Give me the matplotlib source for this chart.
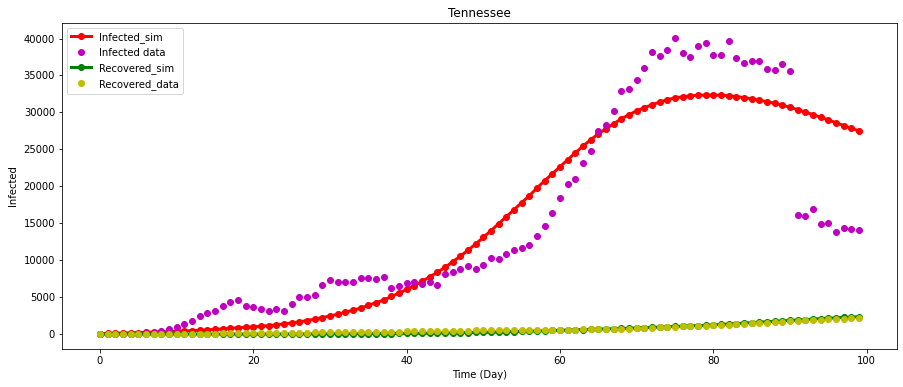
import matplotlib

matplotlib.use("Agg")
import matplotlib.pyplot as plt
import numpy as np

days = np.arange(100)

infected_sim = [
    50, 100, 130, 160, 190, 220, 250, 280, 310, 350,
    390, 430, 480, 530, 590, 650, 720, 790, 870, 940,
    1000, 1080, 1150, 1270, 1400, 1520, 1650, 1850, 2030, 2250,
    2450, 2700, 2970, 3240, 3530, 3900, 4280, 4600, 5100, 5550,
    6050, 6550, 7150, 7750, 8380, 9050, 9800, 10550, 11380, 12200,
    13110, 14010, 14960, 15900, 16850, 17800, 18740, 19780, 20770, 21710,
    22660, 23600, 24550, 25450, 26310, 27120, 27800, 28470, 29150, 29690,
    30230, 30640, 31040, 31400, 31720, 31980, 32120, 32250, 32320, 32350,
    32350, 32330, 32260, 32140, 32000, 31850, 31650, 31450, 31230, 30970,
    30700, 30380, 30030, 29700, 29330, 28980, 28600, 28220, 27850, 27500,
]

infected_data = [
    0, 10, 20, 30, 50, 80, 120, 200, 400, 700,
    950, 1350, 1760, 2430, 2930, 3200, 3780, 4320, 4680, 3870,
    3740, 3470, 3200, 3470, 3200, 4140, 5000, 5000, 5360, 6710,
    7300, 7120, 7120, 7120, 7570, 7570, 7430, 7800, 6310, 6490,
    6890, 7120, 6760, 7030, 6620, 8110, 8380, 8870, 9190, 8870,
    9320, 10360, 10220, 10900, 11440, 11710, 12120, 13340, 14690, 16440,
    18470, 20360, 21040, 23200, 24820, 27530, 28340, 30230, 32930, 33200,
    34420, 36040, 38200, 37660, 38470, 40100, 38070, 37530, 39010, 39420,
    37800, 37800, 39690, 37390, 36720, 36990, 36990, 35900, 35770, 36580,
    35630, 16180, 16040, 16990, 14960, 15090, 13880, 14420, 14280, 14150,
]

recovered_sim = [
    0, 0, 1, 1, 2, 2, 3, 3, 4, 5,
    5, 6, 6, 7, 8, 8, 9, 10, 11, 12,
    13, 15, 17, 19, 21, 24, 27, 30, 33, 36,
    40, 44, 49, 54, 59, 65, 72, 79, 87, 95,
    104, 114, 125, 137, 150, 164, 179, 195, 213, 232,
    252, 274, 297, 321, 347, 374, 403, 434, 466, 499,
    530, 560, 590, 620, 650, 680, 710, 740, 770, 800,
    840, 880, 920, 960, 1000, 1040, 1080, 1120, 1160, 1200,
    1260, 1320, 1380, 1440, 1500, 1560, 1620, 1680, 1740, 1800,
    1860, 1920, 1980, 2040, 2100, 2160, 2210, 2260, 2310, 2356,
]

recovered_data = [
    0, 0, 0, 0, 0, 0, 0, 0, 0, 0,
    20, 30, 40, 50, 60, 80, 100, 110, 120, 130,
    140, 150, 160, 170, 180, 190, 200, 210, 230, 260,
    260, 270, 280, 290, 300, 300, 310, 320, 330, 340,
    400, 420, 430, 440, 450, 460, 470, 480, 490, 500,
    520, 530, 540, 550, 550, 560, 570, 580, 590, 600,
    610, 620, 630, 640, 650, 680, 700, 720, 740, 760,
    800, 840, 880, 920, 960, 1000, 1040, 1080, 1120, 1160,
    1200, 1250, 1300, 1350, 1400, 1450, 1500, 1550, 1620, 1680,
    1740, 1800, 1860, 1920, 1980, 2020, 2060, 2100, 2160, 2220,
]

fig, ax = plt.subplots(figsize=(903 / 72, 387 / 72), dpi=72)
fig.subplots_adjust(left=0.0687, right=0.9934, top=0.9406, bottom=0.0982)

ax.plot(days, infected_sim, "ro-", linewidth=3, label="Infected_sim")
ax.plot(days, infected_data, "mo", label="Infected data")
ax.plot(days, recovered_sim, "go-", linewidth=3, label="Recovered_sim")
ax.plot(days, recovered_data, "yo", label="Recovered_data")

ax.set_title("Tennessee")
ax.set_xlabel("Time (Day)")
ax.set_ylabel("Infected", labelpad=6)
ax.legend(loc="upper left")

fig.savefig("out.png", dpi=72)
